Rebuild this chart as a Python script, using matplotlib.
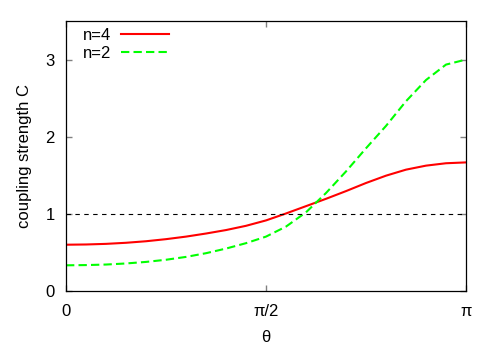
import numpy as np
import matplotlib
matplotlib.use('Agg')
import matplotlib.pyplot as plt

# theta in units of pi
theta = [0.0, 0.05, 0.10, 0.15, 0.20, 0.25, 0.30, 0.35, 0.40, 0.45, 0.50,
         0.55, 0.60, 0.65, 0.70, 0.75, 0.80, 0.85, 0.90, 0.95, 1.0]
c_n4 = [0.600, 0.603, 0.611, 0.625, 0.645, 0.672, 0.705, 0.745, 0.790, 0.845, 0.915,
        1.005, 1.100, 1.195, 1.295, 1.400, 1.495, 1.573, 1.625, 1.656, 1.667]
c_n2 = [0.333, 0.336, 0.343, 0.357, 0.377, 0.405, 0.442, 0.490, 0.550, 0.620, 0.705,
        0.835, 1.020, 1.270, 1.550, 1.850, 2.140, 2.460, 2.735, 2.935, 3.0]

x_ticks = [0, 0.5, 1.0]
x_tick_labels = ['0', 'π/2', 'π']
y_ticks = [0, 1, 2, 3]
ref_level = 1.0

plt.rcParams['font.family'] = ['Liberation Sans', 'DejaVu Sans']

fig = plt.figure(figsize=(4.98, 3.49), dpi=100)
ax = fig.add_axes([66/498, 58/349, 400/498, 270/349])

th = np.array(theta) * np.pi
ax.plot(th, c_n4, color='#ff0000', lw=1.5, label='n=4')
ax.plot(th, c_n2, color='#00ff00', lw=1.5, dashes=(4, 2), label='n=2')
ax.axhline(ref_level, color='black', lw=0.8, dashes=(4, 4))

ax.set_xlim(0, np.pi)
ax.set_ylim(0, 3.5)
ax.set_xticks([t * np.pi for t in x_ticks])
ax.set_xticklabels(x_tick_labels)
ax.set_yticks(y_ticks)
ax.tick_params(direction='in', length=4, width=1, color='#808080', labelsize=12,
               top=True, right=True)
ax.tick_params(axis='x', pad=9)
ax.tick_params(axis='y', pad=8)
for s in ax.spines.values():
    s.set_linewidth(0.9)

ax.set_xlabel('θ', fontsize=12, labelpad=8)
ax.set_ylabel('coupling strength C', fontsize=12, labelpad=10)

ax.legend(loc='upper left', bbox_to_anchor=(0.025, 1.0), frameon=False,
          markerfirst=False, fontsize=12, handlelength=2.9, handletextpad=0.6,
          borderaxespad=0.2, labelspacing=0.2, borderpad=0.2)

fig.savefig('out.png', dpi=100)
